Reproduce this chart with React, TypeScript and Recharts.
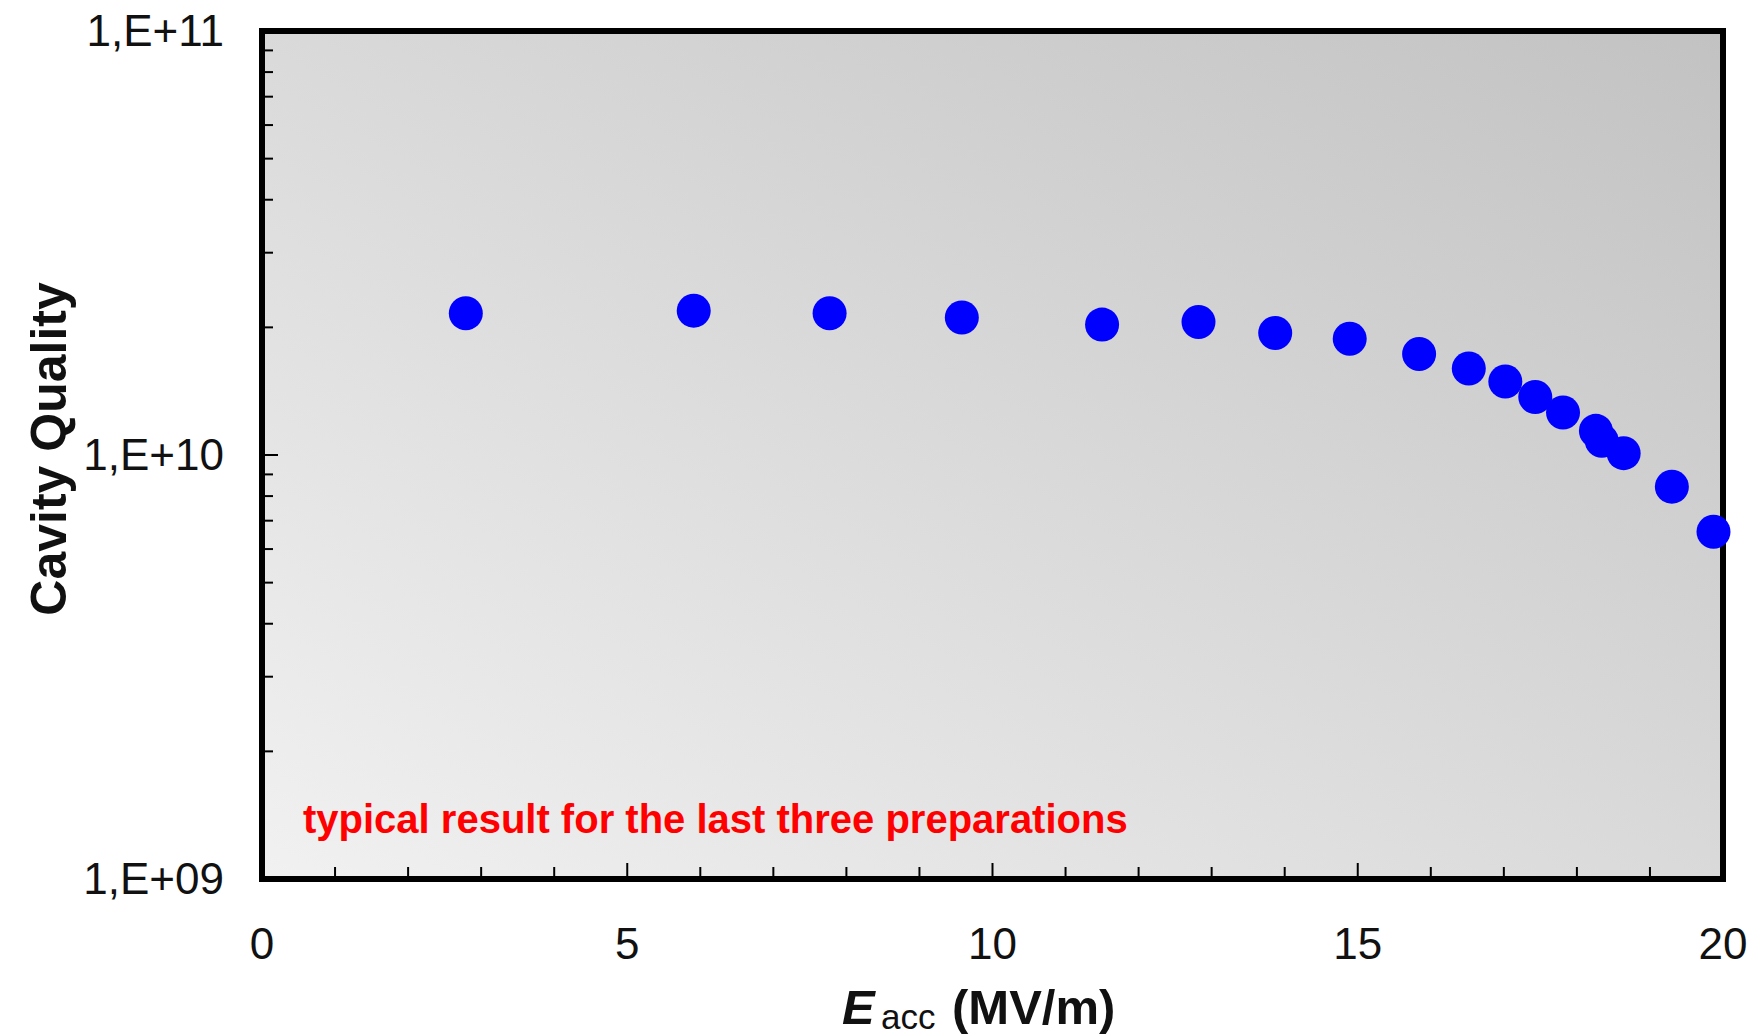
import { ScatterChart, Scatter, XAxis, YAxis, CartesianGrid, ReferenceArea } from 'recharts'

// accelerating gradient (MV/m) and unloaded Q
const eacc = [2.79, 5.91, 7.77, 9.58, 11.5, 12.82, 13.87, 14.89, 15.84, 16.52, 17.02, 17.43, 17.81, 18.26, 18.34, 18.64, 19.3, 19.87]
const quality = [
  2.16e10, 2.19e10, 2.16e10, 2.11e10, 2.03e10, 2.06e10, 1.94e10, 1.88e10, 1.73e10, 1.6e10, 1.49e10, 1.37e10,
  1.26e10, 1.14e10, 1.08e10, 1.01e10, 8.42e9, 6.59e9,
]

const xTicks = [0, 1, 2, 3, 4, 5, 6, 7, 8, 9, 10, 11, 12, 13, 14, 15, 16, 17, 18, 19, 20]
const xLabelled = [0, 5, 10, 15, 20]

const yTicks = [
  1e9, 2e9, 3e9, 4e9, 5e9, 6e9, 7e9, 8e9, 9e9,
  1e10, 2e10, 3e10, 4e10, 5e10, 6e10, 7e10, 8e10, 9e10,
  1e11,
]
const yMajor = [1e9, 1e10, 1e11]
const yLabels = ['1,E+09', '1,E+10', '1,E+11']

const data = eacc.map((e, i) => ({ e, q: quality[i] }))

const FONT = '"Liberation Sans", Arial, sans-serif'

const XTick = (props: any) => {
  const { x, y, payload } = props
  const major = xLabelled.includes(payload.value)
  return (
    <g>
      <line x1={x} y1={y} x2={x} y2={y - (major ? 16 : 12)} stroke="#000" strokeWidth={2} />
      {major && (
        <text x={x} y={y + 80} textAnchor="middle" fontSize={44} fontFamily={FONT} fill="#111">
          {payload.value}
        </text>
      )}
    </g>
  )
}

const YTick = (props: any) => {
  const { x, y, payload } = props
  const idx = yMajor.indexOf(payload.value)
  return (
    <g>
      <line x1={x} y1={y} x2={x + (idx >= 0 ? 16 : 11)} y2={y} stroke="#000" strokeWidth={2} />
      {idx >= 0 && (
        <text x={x - 38} y={y + 15} textAnchor="end" fontSize={44} fontFamily={FONT} fill="#111">
          {yLabels[idx]}
        </text>
      )}
    </g>
  )
}

const Dot = (props: any) => <circle cx={props.cx} cy={props.cy} r={17} fill="#0000ff" />

export default function App() {
  return (
    <div style={{ position: 'absolute', left: 0, top: 0, background: '#fff' }}>
      <ScatterChart width={1760} height={1036} margin={{ top: 31, right: 37, bottom: 100, left: 200 }}>
        <defs>
          <linearGradient id="plotBg" x1="0" y1="1" x2="1" y2="0">
            <stop offset="0%" stopColor="#f1f1f1" />
            <stop offset="100%" stopColor="#c2c2c2" />
          </linearGradient>
        </defs>
        <CartesianGrid horizontal={false} vertical={false} fill="url(#plotBg)" />
        <XAxis
          type="number"
          dataKey="e"
          domain={[0, 20]}
          ticks={xTicks}
          interval={0}
          height={57}
          axisLine={false}
          tickLine={false}
          tickSize={0}
          tickMargin={0}
          tick={<XTick />}
        />
        <YAxis
          type="number"
          dataKey="q"
          scale="log"
          domain={[1e9, 1e11]}
          ticks={yTicks}
          interval={0}
          width={62}
          axisLine={false}
          tickLine={false}
          tickSize={0}
          tickMargin={0}
          tick={<YTick />}
        />
        <ReferenceArea x1={0} x2={20} y1={1e9} y2={1e11} fill="none" stroke="#000" strokeWidth={6} fillOpacity={0} />
        <Scatter data={data} isAnimationActive={false} shape={<Dot />} />
        <text
          x={303}
          y={833}
          fontSize={40}
          fontWeight="bold"
          fontFamily={FONT}
          fill="#ff0000"
        >
          typical result for the last three preparations
        </text>
        <text
          x={66}
          y={449}
          transform="rotate(-90, 66, 449)"
          textAnchor="middle"
          fontSize={50}
          fontWeight="bold"
          fontFamily={FONT}
          fill="#111"
        >
          Cavity Quality
        </text>
        <text fontFamily={FONT} fill="#111" fontWeight="bold">
          <tspan x={842} y={1024} fontSize={49} fontStyle="italic">E</tspan>
          <tspan x={881} y={1029} fontSize={35} fontWeight="normal">acc</tspan>
          <tspan x={952} y={1024} fontSize={49}>(MV/m)</tspan>
        </text>
      </ScatterChart>
    </div>
  )
}
